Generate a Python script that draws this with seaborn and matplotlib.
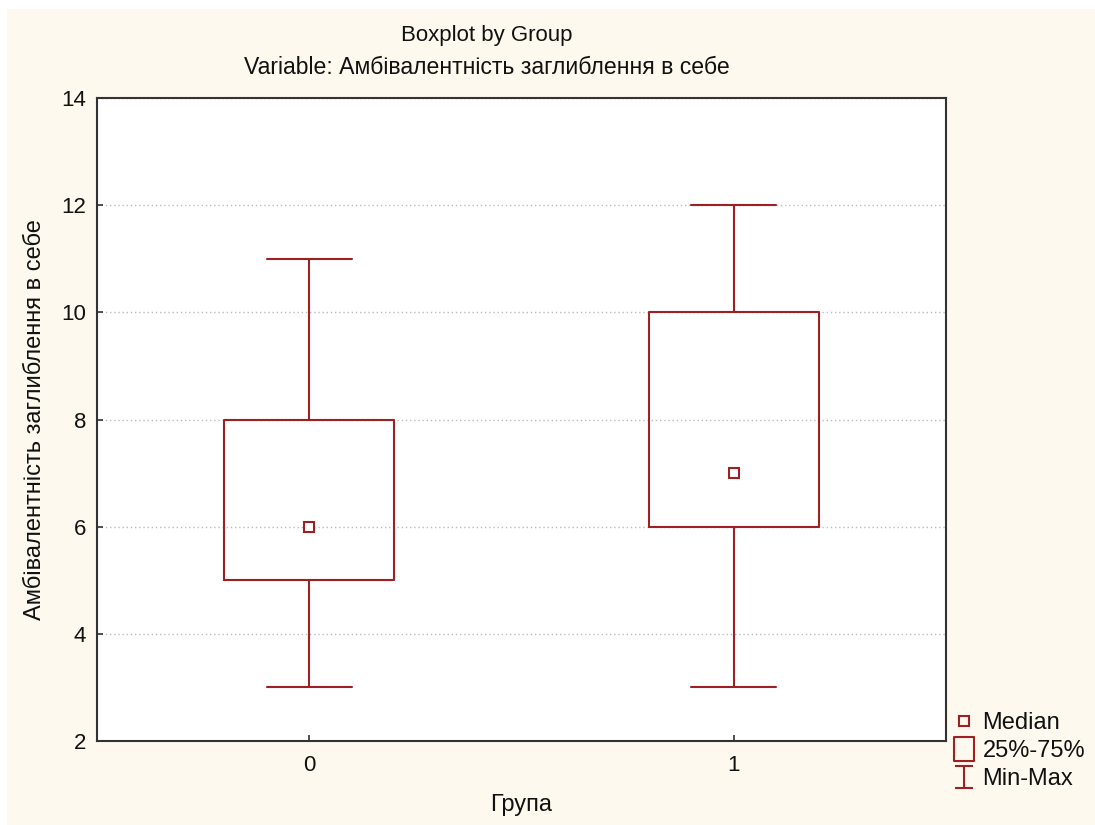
import numpy as np
import pandas as pd
import matplotlib
matplotlib.use("Agg")
import matplotlib.pyplot as plt
from matplotlib.lines import Line2D
from matplotlib.path import Path
from matplotlib.patches import Rectangle
import seaborn as sns

# ---- data (five-number summaries) ----
groups = ["0", "1"]
group0_values = [3, 5, 6, 8, 11]   # min, q1, median, q3, max
group1_values = [3, 6, 7, 10, 12]
yticks = [2, 4, 6, 8, 10, 12, 14]

title1 = "Boxplot by Group"
title2 = "Variable: Амбівалентність заглиблення в себе"
ylabel = "Амбівалентність заглиблення в себе"
xlabel = "Група"
legend_labels = ["Median", "25%-75%", "Min-Max"]

df = pd.DataFrame({
    "group": [groups[0]] * len(group0_values) + [groups[1]] * len(group1_values),
    "value": group0_values + group1_values,
})

sns.set_theme(style="white")
plt.rcParams["font.family"] = ["Liberation Sans", "DejaVu Sans"]

RED = "#9E1F24"
CREAM = "#FEF9EE"
FS = 16

fig = plt.figure(figsize=(10.95, 8.25), dpi=100)
fig.patch.set_facecolor("white")
fig.patches.append(Rectangle((7 / 1095, 0), 1 - 7 / 1095, 1 - 9 / 825,
                             transform=fig.transFigure, facecolor=CREAM,
                             edgecolor="none", zorder=-10))

ax = fig.add_axes([97 / 1095, 84 / 825, 849 / 1095, 643 / 825])
ax.set_facecolor("white")

sns.boxplot(data=df, x="group", y="value", order=groups, whis=(0, 100),
            width=0.4, fill=False, color=RED, linewidth=1.5,
            medianprops={"visible": False}, ax=ax)
sns.pointplot(data=df, x="group", y="value", order=groups, estimator="median",
              errorbar=None, linestyle="none", marker="s", markersize=7,
              color=RED, markerfacecolor="white", markeredgecolor=RED,
              markeredgewidth=1.5, ax=ax, zorder=5)

ax.set_xlim(-0.5, 1.5)
ax.set_ylim(2, 14)
ax.set_yticks(yticks)
ax.grid(axis="y", color="#BBBBBB", linestyle=(0, (1, 2)), linewidth=1)
ax.set_axisbelow(True)
for s in ax.spines.values():
    s.set_color("#333333")
    s.set_linewidth(1.5)
ax.tick_params(axis="both", direction="in", length=4, width=1.2,
               color="#333333", labelsize=FS, labelcolor="#111111",
               left=True, bottom=True, top=False, right=False)
ax.tick_params(axis="y", pad=8)
ax.tick_params(axis="x", pad=10)

ax.set_xlabel(xlabel, fontsize=17, color="#111111")
ax.set_ylabel(ylabel, fontsize=17, color="#111111")
ax.xaxis.set_label_coords(0.5, -0.082)
ax.yaxis.set_label_coords(-0.060, 0.5)

fig.text(487 / 1095, 1 - 35 / 825, title1, ha="center", va="center",
         fontsize=FS, color="#111111")
fig.text(487 / 1095, 1 - 68 / 825, title2, ha="center", va="center",
         fontsize=16.6, color="#111111")

# legend
ibeam = Path([(-0.4, 0.5), (0.4, 0.5), (0, 0.5), (0, -0.5), (-0.4, -0.5), (0.4, -0.5)],
             [Path.MOVETO, Path.LINETO, Path.MOVETO, Path.LINETO, Path.MOVETO, Path.LINETO])
box_path = Path([(-0.43, -0.5), (0.43, -0.5), (0.43, 0.5), (-0.43, 0.5), (-0.43, -0.5)],
                [Path.MOVETO, Path.LINETO, Path.LINETO, Path.LINETO, Path.CLOSEPOLY])
handles = [
    Line2D([], [], linestyle="none", marker="s", markersize=7, markerfacecolor="none",
           markeredgecolor=RED, markeredgewidth=1.5),
    Line2D([], [], linestyle="none", marker=box_path, markersize=17, markerfacecolor="none",
           markeredgecolor=RED, markeredgewidth=1.5),
    Line2D([], [], linestyle="none", marker=ibeam, markersize=16,
           markeredgecolor=RED, markeredgewidth=1.5, markerfacecolor="none"),
]
fig.legend(handles, legend_labels, loc="upper left",
           bbox_to_anchor=(953 / 1095, 1 - 712 / 825), frameon=False,
           fontsize=17, handlelength=0.95, handletextpad=0.3,
           labelspacing=0.25, borderpad=0, borderaxespad=0,
           labelcolor="#111111")

fig.savefig("out.png", dpi=100, facecolor=fig.get_facecolor())
